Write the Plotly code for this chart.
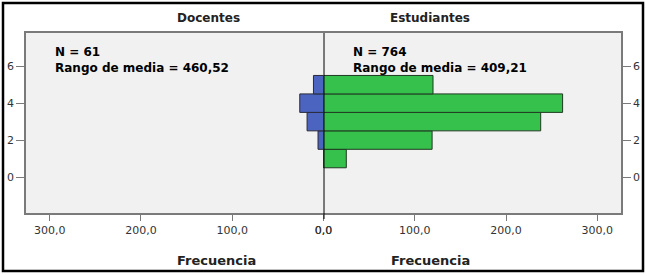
import plotly.graph_objects as go

# Data
bins = [1, 2, 3, 4, 5]
docentes = [0, 6, 18, 26, 11]
estudiantes = [25, 119, 238, 262, 120]
x_tickvals = [0, 100, 200, 300]
x_ticktext = ["0,0", "100,0", "200,0", "300,0"]
y_tickvals = [0, 2, 4, 6]
y_ticktext = ["0", "2", "4", "6"]
panel_titles = ["Docentes", "Estudiantes"]
stats_text = ["N = 61<br>Rango de media = 460,52", "N = 764<br>Rango de media = 409,21"]

BLUE = "#4a64bf"
GREEN = "#36c04c"
AXC = "#7a7a7a"
FONT = "DejaVu Sans"

fig = go.Figure()
fig.add_trace(go.Bar(y=bins, x=docentes, orientation="h", width=1.0,
                     marker=dict(color=BLUE, line=dict(color="#2a2a3a", width=1)),
                     xaxis="x", yaxis="y", showlegend=False))
fig.add_trace(go.Bar(y=bins, x=estudiantes, orientation="h", width=1.0,
                     marker=dict(color=GREEN, line=dict(color="#1f3a22", width=1)),
                     xaxis="x2", yaxis="y2", showlegend=False))

xcommon = dict(range=[0, 326], tickvals=x_tickvals, ticktext=x_ticktext, ticks="outside",
               ticklen=6, tickcolor=AXC, showline=True, linecolor=AXC, linewidth=1.5,
               mirror=True, showgrid=False, zeroline=False, automargin=False,
               tickfont=dict(family=FONT, size=11, color="#333333"))
ycommon = dict(range=[-1.95, 7.8], tickvals=y_tickvals, ticktext=y_ticktext, ticks="outside",
               ticklen=8, tickcolor=AXC, showline=True, linecolor=AXC, linewidth=1.5,
               showgrid=False, zeroline=False, automargin=False,
               tickfont=dict(family=FONT, size=11, color="#333333"))

fig.update_layout(
    width=646, height=275,
    margin=dict(l=26, r=25, t=33, b=62, autoexpand=False),
    paper_bgcolor="white", plot_bgcolor="#f1f1f1",
    barmode="overlay",
    xaxis=dict(domain=[0, 0.5], anchor="y", **{**xcommon, "range": [326, 0]}),
    xaxis2=dict(domain=[0.5, 1], anchor="y2", **xcommon),
    yaxis=dict(anchor="x", side="left", **ycommon),
    yaxis2=dict(anchor="x2", side="right", matches="y", **ycommon),
)

# Center line at zero
fig.add_shape(type="line", xref="x2", yref="paper", x0=0, x1=0, y0=-6 / 180, y1=1,
              line=dict(color="black", width=2))
# Outer border
fig.add_shape(type="rect", xref="paper", yref="paper",
              x0=(3 - 26) / 595, x1=(643 - 26) / 595,
              y0=(213 - 271) / 180, y1=(213 - 3) / 180,
              line=dict(color="black", width=2.5))

for i, (t, s) in enumerate(zip(panel_titles, stats_text)):
    cx = 0.25 + 0.5 * i
    fig.add_annotation(xref="paper", yref="paper", x=cx, y=(213 - 18) / 180, text="<b>%s</b>" % t,
                       showarrow=False, yanchor="middle",
                       font=dict(family=FONT, size=12, color="#222222"))
    fig.add_annotation(xref="paper", yref="paper", x=cx, y=(213 - 260) / 180, text="<b>Frecuencia</b>",
                       showarrow=False, yanchor="middle",
                       font=dict(family=FONT, size=13, color="#222222"))
    sx = [(53 - 26) / 595, (351 - 26) / 595][i]
    fig.add_annotation(xref="paper", yref="paper", x=sx, y=(213 - 43) / 180, text="<b>%s</b>" % s,
                       showarrow=False, xanchor="left", yanchor="top", align="left",
                       font=dict(family=FONT, size=12, color="black"))

fig.write_html("out.html", config={"displayModeBar": False},
               post_script="document.body.style.margin='0';document.body.style.overflow='hidden';")
